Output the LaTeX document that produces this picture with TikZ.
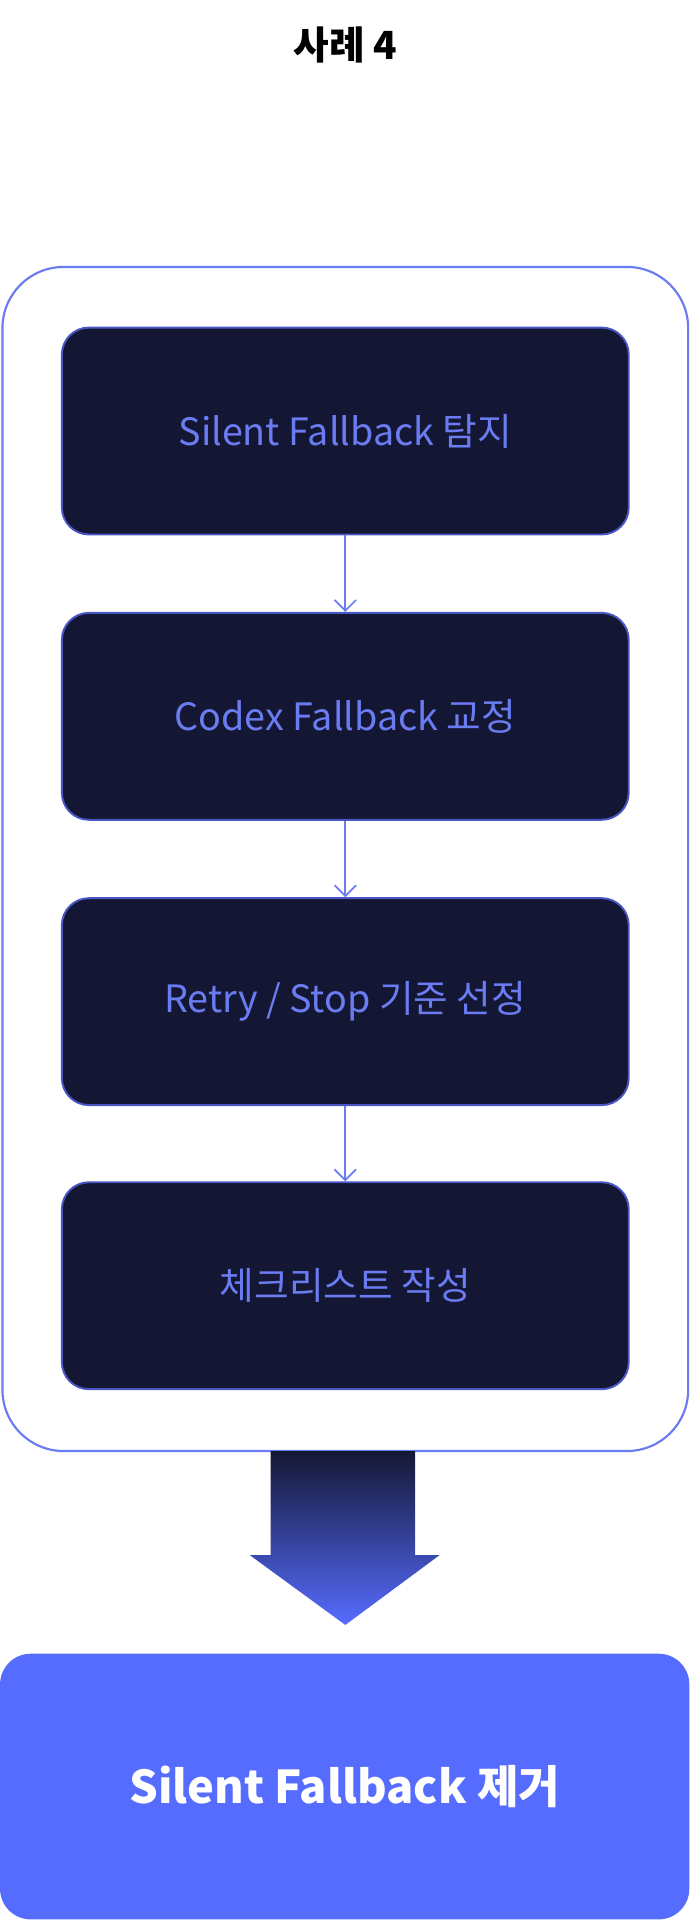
\documentclass[tikz,border=0pt]{standalone}
\usepackage{fontspec}
\setmainfont{Noto Sans CJK KR}
\usetikzlibrary{arrows.meta}
\definecolor{boxdark}{HTML}{141734}
\definecolor{boxline}{HTML}{4A56C4}
\definecolor{textblue}{HTML}{6B7CF2}
\definecolor{outline}{HTML}{6B7BF0}
\definecolor{result}{HTML}{566CFF}
\tikzset{
  stage/.style={rectangle, rounded corners=0.44cm, draw=boxline, line width=0.9pt, fill=boxdark,
    minimum width=9.26cm, minimum height=3.38cm, text=textblue, font=\fontsize{17.5}{21}\selectfont},
  flow/.style={draw=outline, line width=0.8pt, -{Straight Barb[length=5pt,width=10pt]}}
}
\begin{document}
\begin{tikzpicture}[x=0.02cm, y=-0.02cm]
  \useasboundingbox (0, 0) rectangle (563, 1568);

  \node[font=\bfseries\fontsize{18}{21}\selectfont] (title) at (282, 37) {사례 4};

  \draw[outline, line width=1pt, rounded corners=1cm] (2, 218) rectangle (562, 1185);

  \node[stage] (s1) at (282, 352) {Silent Fallback 탐지};
  \node[stage] (s2) at (282, 585) {Codex Fallback 교정};
  \node[stage] (s3) at (282, 818) {Retry / Stop 기준 선정};
  \node[stage] (s4) at (282, 1050) {체크리스트 작성};

  \draw[flow] (s1) -- (s2);
  \draw[flow] (s2) -- (s3);
  \draw[flow] (s3) -- (s4);

  \shade[top color=boxdark, bottom color=result]
    (221, 1185) -- (339, 1185) -- (339, 1270) -- (359, 1270) -- (282, 1327)
    -- (204, 1270) -- (221, 1270) -- cycle;

  \node[rectangle, rounded corners=0.5cm, fill=result, minimum width=11.26cm, minimum height=4.34cm,
    text=white, font=\bfseries\fontsize{21}{25}\selectfont] (goal) at (281.5, 1459) {Silent Fallback 제거};
\end{tikzpicture}
\end{document}
